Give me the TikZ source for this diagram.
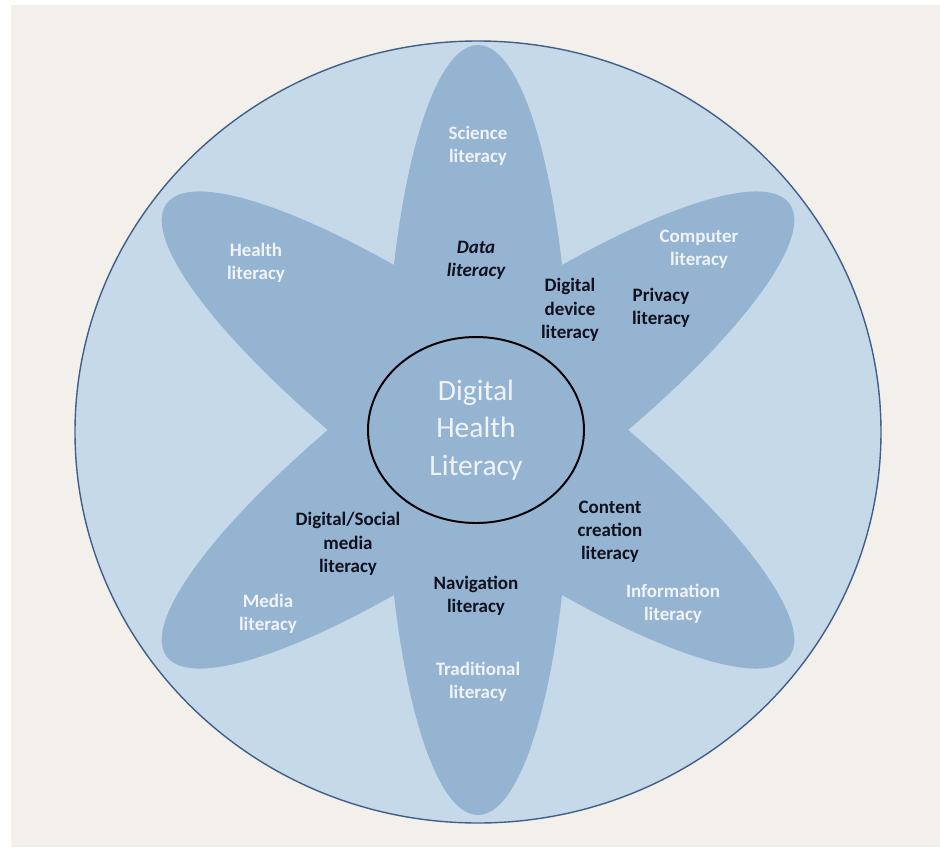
\documentclass[tikz,border=0pt]{standalone}
\usepackage{fontspec}
\setmainfont{Carlito}
\usepackage{tikz}
\definecolor{dhpaper}{RGB}{243,240,235}
\definecolor{dhring}{RGB}{197,217,232}
\definecolor{dhpetal}{RGB}{148,180,210}
\definecolor{dhedge}{RGB}{66,95,138}
\definecolor{dhlight}{RGB}{240,243,247}
\definecolor{dhdark}{RGB}{17,17,30}
\usetikzlibrary{positioning}

\begin{document}
\begin{tikzpicture}[
    outer/.style={font=\fontsize{13.5}{16.5}\selectfont\bfseries, text=dhlight, align=center},
    inner/.style={font=\fontsize{13.5}{16.5}\selectfont\bfseries, text=dhdark, align=center},
    petal/.style={fill=dhpetal}
  ]
  \useasboundingbox (-11.95,-10.425) rectangle (11.55,10.75);
  %% page
  \fill[white] (-11.95,-10.425) rectangle (11.55,10.75);
  \fill[dhpaper] (-11.675,-10.425) rectangle (11.55,10.625);
  %% ring and petals
  \filldraw[draw=dhedge, fill=dhring, line width=1pt] (0,-0.05) ellipse [x radius=10.075, y radius=9.775];
  \foreach \ang in {90,36,-36}
    \fill[petal, rotate=\ang] (0,0) ellipse [x radius=9.625, y radius=2.325];
  %% centre
  \draw[black, line width=1.4pt] (-0.05,0) ellipse [x radius=2.7, y radius=2.325];
  \node[font=\fontsize{21}{26.6}\selectfont, text=dhlight, align=center] (dhl) at (-0.05,0) {Digital\\Health\\Literacy};
  %% outer literacies
  \node[outer] (science) at (0,7.1) {Science\\literacy};
  \node[outer] (health) at (-5.55,4.175) {Health\\literacy};
  \node[outer] (computer) at (5.525,4.525) {Computer\\literacy};
  \node[outer] (information) at (4.875,-4.35) {Information\\literacy};
  \node[outer] (traditional) at (0,-6.3) {Traditional\\literacy};
  \node[outer] (media) at (-5.25,-4.6) {Media\\literacy};
  %% digital literacies
  \node[inner, font=\fontsize{13.5}{16.5}\selectfont\bfseries\itshape] (data) at (-0.05,4.25) {Data\\literacy};
  \node[inner] (device) at (2.3,3.0) {Digital\\device\\literacy};
  \node[inner] (privacy) at (4.575,3.05) {Privacy\\literacy};
  \node[inner] (content) at (3.3,-2.55) {Content\\creation\\literacy};
  \node[inner] (navigation) at (-0.05,-4.15) {Navigation\\literacy};
  \node[inner] (social) at (-3.25,-2.85) {Digital/Social\\media\\literacy};
\end{tikzpicture}
\end{document}
